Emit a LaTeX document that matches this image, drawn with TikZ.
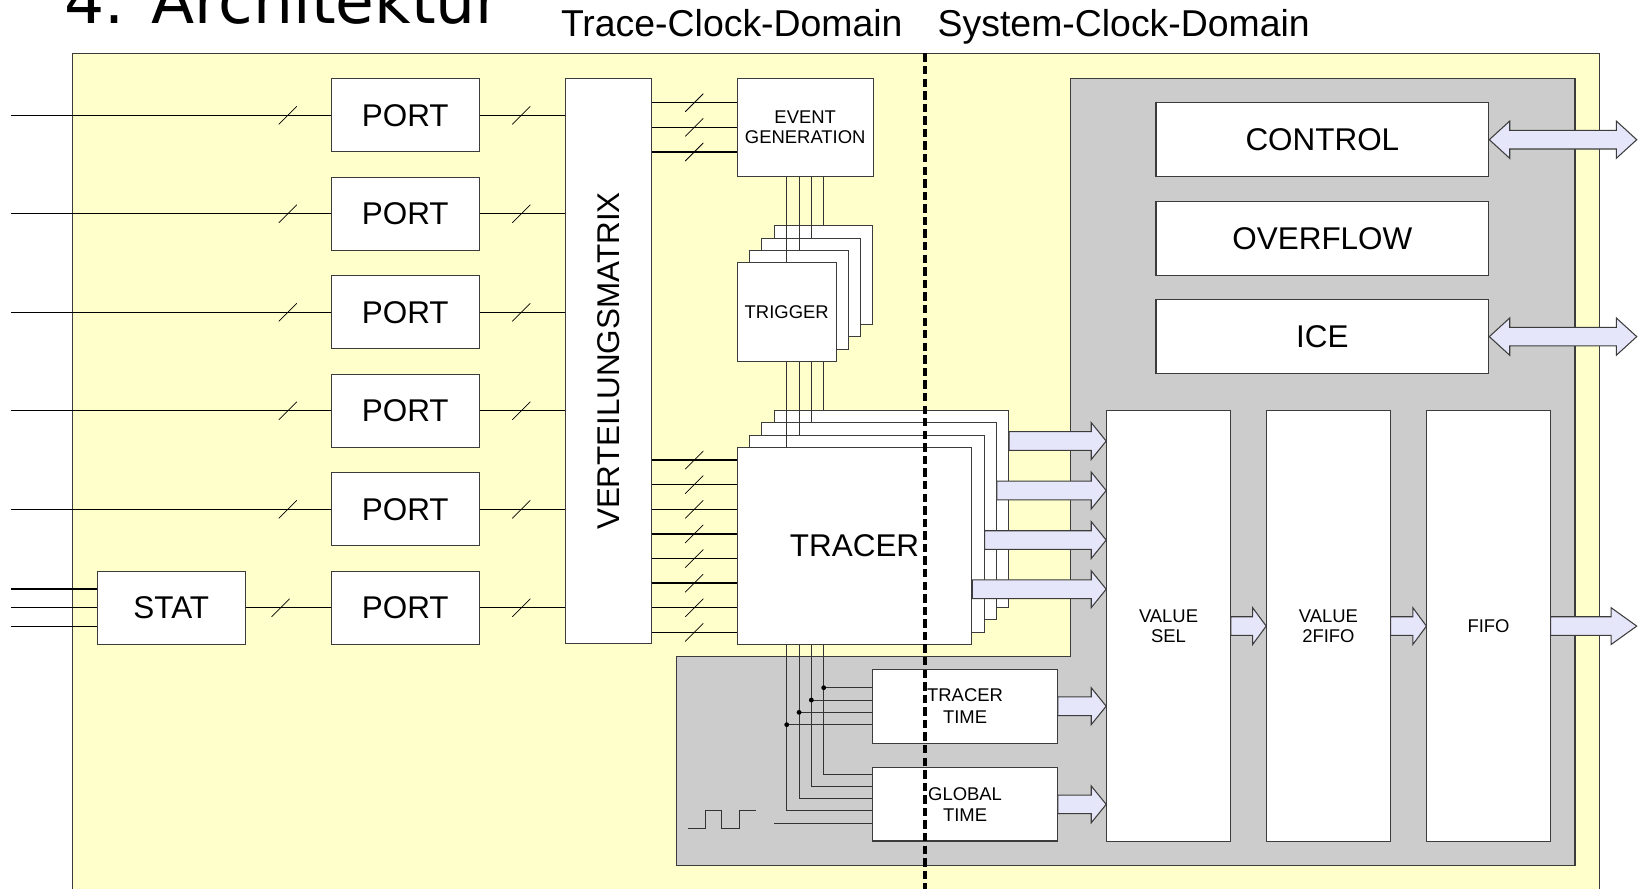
\documentclass[tikz,border=0pt]{standalone}
\usepackage{fontspec}
\setmainfont{Liberation Sans}
\newfontfamily\titlefont{DejaVu Sans}
\usetikzlibrary{calc}
\definecolor{bgyellow}{HTML}{FFFFCC}
\definecolor{bggray}{HTML}{CCCCCC}
\definecolor{arrowfill}{HTML}{E6E6FA}
\definecolor{edge}{HTML}{3C3C3C}
\definecolor{wiregray}{HTML}{333333}
\newcommand\FatArrow[3]{%
  \draw[fat] let \p1=(#1), \p2=(#2) in
    (\x1,\y1+4.45pt) -- (\x2-#3,\y1+4.45pt) -- (\x2-#3,\y1+8.8pt) -- (\x2,\y1)
    -- (\x2-#3,\y1-8.8pt) -- (\x2-#3,\y1-4.45pt) -- (\x1,\y1-4.45pt) -- cycle;}
\newcommand\DblArrow[3]{%
  \draw[fat] let \p1=(#1), \p2=(#2) in
    (\x1,\y1) -- (\x1+#3,\y1+8.9pt) -- (\x1+#3,\y1+4.45pt) -- (\x2-#3,\y1+4.45pt)
    -- (\x2-#3,\y1+8.9pt) -- (\x2,\y1) -- (\x2-#3,\y1-8.9pt) -- (\x2-#3,\y1-4.45pt)
    -- (\x1+#3,\y1-4.45pt) -- (\x1+#3,\y1-8.9pt) -- cycle;}
% box node from its corners: [style]{name}{x1}{y1}{x2}{y2}{text}
\newcommand\BoxNode[7][]{%
  \node[box, #1, minimum width={((#5)-(#3))*0.5pt}, minimum height={((#6)-(#4))*0.5pt}]
    (#2) at ({((#3)+(#5))/2},{((#4)+(#6))/2}) {#7};}
\begin{document}
\begin{tikzpicture}[x=0.5pt,y=-0.5pt,
  box/.style={draw=edge, line width=0.5pt, fill=white, inner sep=0pt},
  big/.style={font=\fontsize{15}{18}\selectfont},
  small/.style={font=\fontsize{8.8}{9.6}\selectfont, align=center},
  smallb/.style={font=\fontsize{8.8}{10.2}\selectfont, align=center},
  wire/.style={line width=0.65pt, black},
  thinw/.style={line width=0.45pt, wiregray},
  fat/.style={draw=edge, line width=0.5pt, fill=arrowfill},
  slashmk/.style={inner sep=0pt, minimum size=8.7pt, path picture={\draw[line width=0.35pt, black] (path picture bounding box.south west) -- (path picture bounding box.north east);}},
]
\useasboundingbox (0,0) rectangle (1568,848);
\clip (0,0) rectangle (1568,848);
\fill[white] (0,0) rectangle (1568,848);
% backgrounds
\draw[fill=bgyellow, draw=edge, line width=0.7pt] (69.4,51) rectangle (1526.5,880);
\draw[fill=bggray, draw=edge, line width=0.5pt] (1021.2,74.7) -- (1503.1,74.7) -- (1503.1,826.3) -- (645.2,826.3) -- (645.2,626.7) -- (1021.2,626.7) -- cycle;
% titles
\node[anchor=base west, inner sep=0pt, font=\titlefont\fontsize{30.1}{31}\selectfont] (title) at (61,22) {4. Architektur};
\node[anchor=base west, inner sep=0pt, font=\fontsize{17.85}{20}\selectfont] (tcd) at (535,34.4) {Trace-Clock-Domain};
\node[anchor=base west, inner sep=0pt, font=\fontsize{17.85}{20}\selectfont] (scd) at (894.5,34.4) {System-Clock-Domain};
% ports
\foreach \i in {1,...,6} {
  \BoxNode[big]{p\i}{316}{75+94*\i-94}{457.5}{145+94*\i-94}{PORT}
}
\BoxNode[big]{stat}{93}{545}{234}{615}{STAT}
\BoxNode[big]{vm}{539.5}{74.7}{622}{614.5}{\rotatebox{90}{VERTEILUNGSMATRIX}}
\BoxNode[small]{ev}{703.7}{74.7}{833.2}{168.6}{EVENT\\GENERATION}
% trigger stack
\foreach \k in {4,3,2} {
  \BoxNode{trig\k}{703.7+11.7*\k-11.7}{250.7-11.7*\k+11.7}{797.9+11.7*\k-11.7}{344.8-11.7*\k+11.7}{}
}
\BoxNode[small]{trig1}{703.7}{250.7}{797.9}{344.8}{TRIGGER}
% tracer stack
\foreach \k in {4,3,2} {
  \BoxNode{trc\k}{703.7+11.7*\k-11.7}{426.9-11.7*\k+11.7}{927.4+11.7*\k-11.7}{614.9-11.7*\k+11.7}{}
}
\BoxNode[big]{trc1}{703.7}{426.9}{927.4}{614.9}{TRACER}
\BoxNode[smallb]{tt}{832.9}{638.8}{1009.1}{709.1}{TRACER\\TIME}
\BoxNode[smallb]{gt}{832.9}{732.7}{1009.1}{802.6}{GLOBAL\\TIME}
% system side
\BoxNode[big]{ctrl}{1103.2}{98}{1420.8}{168.6}{CONTROL}
\BoxNode[big]{ovf}{1103.2}{192.1}{1420.8}{262.5}{OVERFLOW}
\BoxNode[big]{ice}{1103.2}{286}{1420.8}{356.5}{ICE}
\BoxNode[small]{vsel}{1056.2}{392}{1174.2}{803}{VALUE\\SEL}
\BoxNode[small]{v2f}{1208.9}{392}{1326.7}{803}{VALUE\\2FIFO}
\BoxNode[small]{fifo}{1361.8}{392}{1479.3}{803}{FIFO}
% input wires
\foreach \i in {1,...,5} {
  \coordinate (in\i) at (10.5,110+94*\i-94);
  \draw[wire] (in\i) -- node[slashmk, pos=0.866] {} (p\i.west);
}
\foreach \i in {1,...,6} {
  \draw[wire] (p\i.east) -- node[slashmk, pos=0.488] {} (vm.west |- p\i.east);
}
\foreach \j/\y in {1/562,2/580,3/598} {
  \coordinate (sin\j) at (10.5,\y);
  \draw[wire] (sin\j) -- (stat.west |- sin\j);
}
\draw[wire] (stat.east) -- node[slashmk, pos=0.41] {} (p6.west);
% VM -> event generation
\foreach \y in {98,121.5,145} {
  \draw[wire] (vm.east |- 0,\y) -- node[slashmk, pos=0.497] {} (ev.west |- 0,\y);
}
% VM -> tracer
\foreach \k in {0,...,7} {
  \draw[wire] (vm.east |- 0,439+23.5*\k) -- node[slashmk, pos=0.497] {} (trc1.west |- 0,439+23.5*\k);
}
% vertical buses
\foreach \k/\x in {1/750.8,2/762.6,3/774.3,4/786.1} {
  \draw[thinw] (ev.south -| \x,0) -- (trig\k.north -| \x,0);
  \draw[thinw] (trig1.south -| \x,0) -- (trc\k.north -| \x,0);
}
% tracer -> time units
\foreach \x/\yd/\yg in {786.1/656.3/738.7, 774.3/668.1/750.1, 762.6/679.8/761.9, 750.8/691.6/773.7} {
  \draw[thinw] (trc1.south -| \x,0) -- (\x,\yg) -- (gt.west |- 0,\yg);
  \draw[thinw] (\x,\yd) -- (tt.west |- 0,\yd);
  \fill[black] (\x,\yd) circle[radius=1.15pt];
}
% clock
\draw[line width=0.45pt, wiregray] (657,790.2) -- (672.8,790.2) -- (672.8,773.7) -- (688.8,773.7) -- (688.8,790.2) -- (705.6,790.2) -- (705.6,773.7) -- (721.2,773.7);
\coordinate (clk) at (739,785.4);
\draw[thinw] (clk) -- (gt.west |- clk);
% fat arrows
\FatArrow{trc4.east |- 0,420.9}{vsel.west}{7.15pt}
\FatArrow{trc3.east |- 0,468.1}{vsel.west}{7.15pt}
\FatArrow{trc2.east |- 0,515.4}{vsel.west}{7.15pt}
\FatArrow{trc1.east |- 0,562.3}{vsel.west}{7.15pt}
\FatArrow{tt.east}{vsel.west}{7.15pt}
\FatArrow{gt.east}{vsel.west}{7.15pt}
\FatArrow{vsel.east}{v2f.west}{6.5pt}
\FatArrow{v2f.east}{fifo.west}{6.5pt}
\coordinate (fifoout) at (1562,597.5);
\FatArrow{fifo.east}{fifoout}{12.25pt}
\coordinate (ctrlout) at (1562,133.3);
\coordinate (iceout) at (1562,321.2);
\DblArrow{ctrl.east}{ctrlout}{9.75pt}
\DblArrow{ice.east}{iceout}{9.75pt}
% clock domain divider
\coordinate (dtop) at (882.8,51);
\coordinate (dbot) at (882.8,870);
\draw[line width=1.9pt, black, dash pattern=on 4pt off 2pt] (dtop) -- (dbot);
\end{tikzpicture}
\end{document}
